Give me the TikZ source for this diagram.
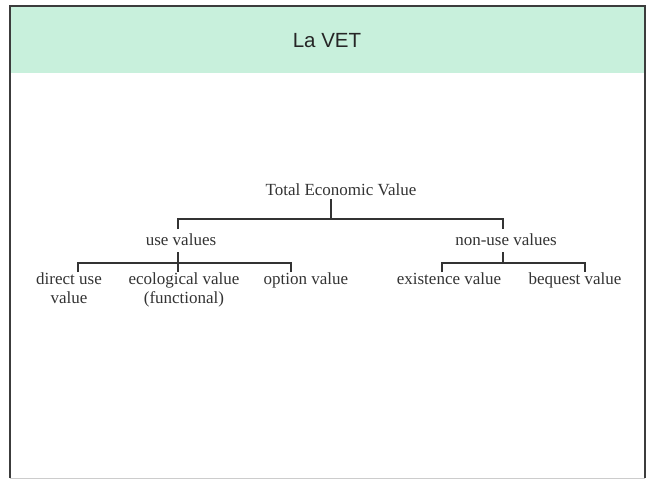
\documentclass[tikz,border=0pt]{standalone}
\usepackage{fontspec}
\setmainfont{Liberation Serif}
\newfontfamily\titlefont{Liberation Sans}
\definecolor{band}{RGB}{200,240,220}
\definecolor{ink}{RGB}{51,51,51}
\definecolor{frameink}{RGB}{60,60,60}
\begin{document}
\begin{tikzpicture}[x=1pt,y=-1pt,
  lbl/.style={inner sep=0pt,anchor=base,text=ink,align=center,
    font=\fontsize{17}{19}\selectfont},
  link/.style={draw=ink,line width=1.4pt},
  title/.style={inner sep=0pt,anchor=base,text=black!85,
    font=\titlefont\fontsize{20.5}{24}\selectfont}]
\useasboundingbox (0,0) rectangle (651,479);
% slide frame
\fill[band] (10,7) rectangle (645,73);
\draw[frameink,line width=2pt] (10,478) -- (10,6) -- (645,6) -- (645,478);
\draw[black!20,line width=1pt] (10,478) -- (645,478);
\node[title] (ttl) at (327,47) {La VET};
% labels
\node[lbl] (tev) at (341,195) {Total Economic Value};
\node[lbl] (use) at (181,245) {use values};
\node[lbl] (non) at (506,245) {non-use values};
\node[lbl] (dir) at (69,303) {direct use\\value};
\node[lbl] (eco) at (184,303) {ecological value\\(functional)};
\node[lbl] (opt) at (306,284) {option value};
\node[lbl] (exi) at (449,284) {existence value};
\node[lbl] (beq) at (575,284) {bequest value};
% junction coordinates
\coordinate (tevb) at (331,199);
\coordinate (bar1) at (331,219);
\coordinate (uset) at (178,229);
\coordinate (nont) at (503,229);
\coordinate (useb) at (178,252);
\coordinate (bar2) at (178,263);
\coordinate (dirt) at (78,272);
\coordinate (ecot) at (178,272);
\coordinate (optt) at (291,272);
\coordinate (nonb) at (503,252);
\coordinate (bar3) at (503,263);
\coordinate (exit) at (442,272);
\coordinate (beqt) at (585,272);
% connectors
\draw[link] (tevb) -- (bar1);
\draw[link] (uset) |- (bar1) -| (nont);
\draw[link] (useb) -- (ecot);
\draw[link] (dirt) |- (bar2) -| (optt);
\draw[link] (nonb) -- (bar3);
\draw[link] (exit) |- (bar3) -| (beqt);
\end{tikzpicture}
\end{document}
